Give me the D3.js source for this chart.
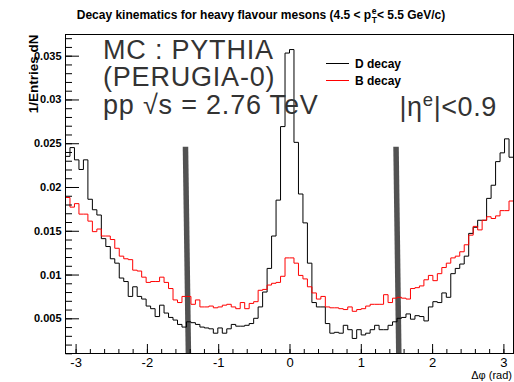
<!DOCTYPE html>
<html>
<head>
<meta charset="utf-8">
<script src="https://cdn.jsdelivr.net/npm/d3@7"></script>
<style>
  html, body { margin: 0; padding: 0; background: #fff; }
  svg { display: block; }
  text { font-family: "Liberation Sans", Arial, Helvetica, sans-serif; }
</style>
</head>
<body>
<svg id="chart" width="514" height="382"></svg>
<script>
// Histogram binning in delta-phi (rad)
const nBins = 100;
const phiMin = -Math.PI;
const phiMax = Math.PI;

// Normalised electron-hadron delta-phi distributions (1/Entries dN per bin)
const dDecay = [
  0.0235, 0.0245, 0.0231, 0.0220, 0.0231, 0.0186, 0.0174, 0.0168, 0.0141, 0.0132,
  0.0118, 0.0113, 0.0096, 0.0092, 0.0075, 0.0086, 0.0075, 0.0072, 0.0064, 0.0061,
  0.0052, 0.0065, 0.0056, 0.0051, 0.0048, 0.0043, 0.0040, 0.0046, 0.0045, 0.0043,
  0.0040, 0.0039, 0.0038, 0.0033, 0.0039, 0.0033, 0.0038, 0.0043, 0.0041, 0.0041,
  0.0042, 0.0044, 0.0050, 0.0063, 0.0080, 0.0107, 0.0144, 0.0185, 0.0269, 0.0353,
  0.0357, 0.0251, 0.0192, 0.0159, 0.0113, 0.0068, 0.0063, 0.0063, 0.0044, 0.0033,
  0.0034, 0.0033, 0.0042, 0.0037, 0.0027, 0.0037, 0.0031, 0.0033, 0.0037, 0.0042,
  0.0037, 0.0037, 0.0042, 0.0046, 0.0050, 0.0051, 0.0055, 0.0049, 0.0053, 0.0052,
  0.0047, 0.0063, 0.0069, 0.0068, 0.0079, 0.0074, 0.0101, 0.0107, 0.0112, 0.0121,
  0.0147, 0.0154, 0.0162, 0.0162, 0.0187, 0.0202, 0.0229, 0.0239, 0.0255, 0.0234
];
const bDecay = [
  0.0188, 0.0177, 0.0181, 0.0169, 0.0169, 0.0161, 0.0149, 0.0152, 0.0144, 0.0144,
  0.0140, 0.0130, 0.0121, 0.0118, 0.0117, 0.0105, 0.0104, 0.0097, 0.0091, 0.0092,
  0.0092, 0.0097, 0.0091, 0.0084, 0.0071, 0.0068, 0.0075, 0.0075, 0.0066, 0.0071,
  0.0063, 0.0063, 0.0064, 0.0062, 0.0063, 0.0065, 0.0066, 0.0063, 0.0061, 0.0068,
  0.0061, 0.0067, 0.0069, 0.0082, 0.0083, 0.0088, 0.0090, 0.0091, 0.0098, 0.0119,
  0.0119, 0.0113, 0.0099, 0.0095, 0.0086, 0.0079, 0.0072, 0.0075, 0.0063, 0.0062,
  0.0062, 0.0061, 0.0060, 0.0063, 0.0058, 0.0060, 0.0061, 0.0064, 0.0066, 0.0066,
  0.0066, 0.0077, 0.0068, 0.0073, 0.0074, 0.0073, 0.0072, 0.0084, 0.0085, 0.0087,
  0.0094, 0.0099, 0.0093, 0.0101, 0.0108, 0.0113, 0.0119, 0.0121, 0.0126, 0.0134,
  0.0145, 0.0155, 0.0151, 0.0162, 0.0166, 0.0164, 0.0167, 0.0173, 0.0173, 0.0184
];

// Axis ticks and labels
const xTicks = [-3, -2, -1, 0, 1, 2, 3];
const xTickLabels = ["-3", "-2", "-1", "0", "1", "2", "3"];
const yTicks = [0.005, 0.01, 0.015, 0.02, 0.025, 0.03, 0.035];
const yTickLabels = ["0.005", "0.01", "0.015", "0.02", "0.025", "0.03", "0.035"];
const yRange = [0.00098, 0.03742];

// Legend entries
const legendLabels = ["D decay", "B decay"];
const seriesColors = ["#000000", "#ff0000"];

// Acceptance cut markers (delta-phi at top and bottom, height in dN)
const cutMarkers = [
  { phiTop: -1.459, phiBottom: -1.418, top: 0.0246 },
  { phiTop: 1.494, phiBottom: 1.533, top: 0.0246 }
];

// ---- drawing ----
const svg = d3.select("#chart");
svg.append("rect").attr("width", 514).attr("height", 382).attr("fill", "#fff");

const frame = { left: 65.5, right: 513.5, top: 34.5, bottom: 353.5 };
const x = d3.scaleLinear().domain([phiMin, phiMax]).range([frame.left, frame.right]);
const y = d3.scaleLinear().domain(yRange).range([frame.bottom, frame.top]);

const binWidth = (phiMax - phiMin) / nBins;
const edges = d3.range(nBins + 1).map(i => phiMin + i * binWidth);

// Cut markers (drawn beneath the histograms)
svg.append("g").selectAll("line").data(cutMarkers).join("line")
  .attr("x1", d => x(d.phiTop)).attr("y1", d => y(d.top))
  .attr("x2", d => x(d.phiBottom)).attr("y2", y(yRange[0]))
  .attr("stroke", "#525252").attr("stroke-width", 5.5);

// Step histograms
const stepLine = d3.line()
  .x(d => x(d[0])).y(d => y(d[1]))
  .curve(d3.curveStepAfter);
function stepPoints(values) {
  const pts = values.map((v, i) => [edges[i], v]);
  pts.push([edges[nBins], values[nBins - 1]]);
  return pts;
}
[dDecay, bDecay].forEach((series, k) => {
  svg.append("path")
    .attr("d", stepLine(stepPoints(series)))
    .attr("fill", "none")
    .attr("stroke", seriesColors[k])
    .attr("stroke-width", 1);
});

// Axes with inward ticks
const yMinor = d3.range(1, 38).map(i => i * 0.001).filter(v => v >= yRange[0] && v <= yRange[1]);
const xMinor = d3.range(-15, 16).map(i => i * 0.2).filter(v => v >= phiMin && v <= phiMax);

const yAxis = d3.axisLeft(y).tickValues(yTicks)
  .tickFormat((d, i) => yTickLabels[i]).tickSizeInner(-13.5).tickSizeOuter(0).tickPadding(4);
const gy = svg.append("g").attr("transform", `translate(${frame.left},0)`).call(yAxis);
gy.select(".domain").remove();
gy.selectAll("text").attr("font-size", 11).attr("font-weight", "bold")
  .attr("font-family", "Liberation Sans, Arial, sans-serif").attr("fill", "#000");

const gyMinor = svg.append("g").attr("transform", `translate(${frame.left},0)`)
  .call(d3.axisLeft(y).tickValues(yMinor).tickFormat("").tickSizeInner(-6.5).tickSizeOuter(0));
gyMinor.select(".domain").remove();

const xAxis = d3.axisBottom(x).tickValues(xTicks)
  .tickFormat((d, i) => xTickLabels[i]).tickSizeInner(-9.5).tickSizeOuter(0).tickPadding(4);
const gx = svg.append("g").attr("transform", `translate(0,${frame.bottom})`).call(xAxis);
gx.select(".domain").remove();
gx.selectAll("text").attr("font-size", 13)
  .attr("font-family", "Liberation Sans, Arial, sans-serif").attr("fill", "#000");

const gxMinor = svg.append("g").attr("transform", `translate(0,${frame.bottom})`)
  .call(d3.axisBottom(x).tickValues(xMinor).tickFormat("").tickSizeInner(-4.5).tickSizeOuter(0));
gxMinor.select(".domain").remove();

// Frame
svg.append("rect")
  .attr("x", frame.left).attr("y", frame.top)
  .attr("width", frame.right - frame.left).attr("height", frame.bottom - frame.top)
  .attr("fill", "none").attr("stroke", "#000").attr("stroke-width", 1);

// Axis titles
svg.append("text")
  .attr("transform", `translate(37.5,${frame.top}) rotate(-90)`)
  .attr("text-anchor", "end")
  .attr("font-size", 13.5).attr("font-weight", "bold")
  .text("1/Entries dN");

svg.append("text")
  .attr("x", 512).attr("y", 378.5)
  .attr("text-anchor", "end").attr("font-size", 11)
  .text("\u0394\u03c6 (rad)");

// Title with stacked sub/superscript on p
const title = svg.append("g").attr("font-weight", "bold").attr("fill", "#000");
const tBase = 19;
const t1 = title.append("text").attr("x", 0).attr("y", tBase).attr("font-size", 12)
  .text("Decay kinematics for heavy flavour mesons (4.5 < p");
const w1 = t1.node().getComputedTextLength();
const tSup = title.append("text").attr("x", w1 + 0.5).attr("y", tBase - 5).attr("font-size", 8.5).text("e");
const tSub = title.append("text").attr("x", w1 + 0.5).attr("y", tBase + 4).attr("font-size", 8.5).text("T");
const wSS = Math.max(tSup.node().getComputedTextLength(), tSub.node().getComputedTextLength()) + 0.5;
const t2 = title.append("text").attr("x", w1 + wSS).attr("y", tBase).attr("font-size", 12)
  .text(" < 5.5 GeV/c)");
const wTot = w1 + wSS + t2.node().getComputedTextLength();
title.attr("transform", `translate(${261 - wTot / 2},0)`);

// Legend
const legend = svg.append("g");
legendLabels.forEach((label, i) => {
  const yy = 63.5 + i * 17;
  legend.append("line").attr("x1", 326).attr("x2", 349).attr("y1", yy).attr("y2", yy)
    .attr("stroke", seriesColors[i]).attr("stroke-width", 1);
  legend.append("text").attr("x", 355).attr("y", yy + 4).attr("font-size", 12)
    .attr("font-weight", "bold").text(label);
});

// Annotations
const notes = ["MC : PYTHIA", "(PERUGIA-0)", "pp \u221As = 2.76 TeV"];
const note = svg.append("g").attr("fill", "#333").attr("font-size", 27)
  .attr("letter-spacing", 0.8);
notes.forEach((s, i) => {
  note.append("text").attr("x", 103).attr("y", 59 + i * 27.3).text(s);
});
const eta = svg.append("text").attr("x", 399.5).attr("y", 115.5).attr("fill", "#333")
  .attr("font-size", 27).attr("letter-spacing", 0.6);
eta.append("tspan").text("|\u03b7");
eta.append("tspan").attr("font-size", 18.5).attr("dy", -9.5).text("e");
eta.append("tspan").attr("dy", 9.5).text("|<0.9");
</script>
</body>
</html>
